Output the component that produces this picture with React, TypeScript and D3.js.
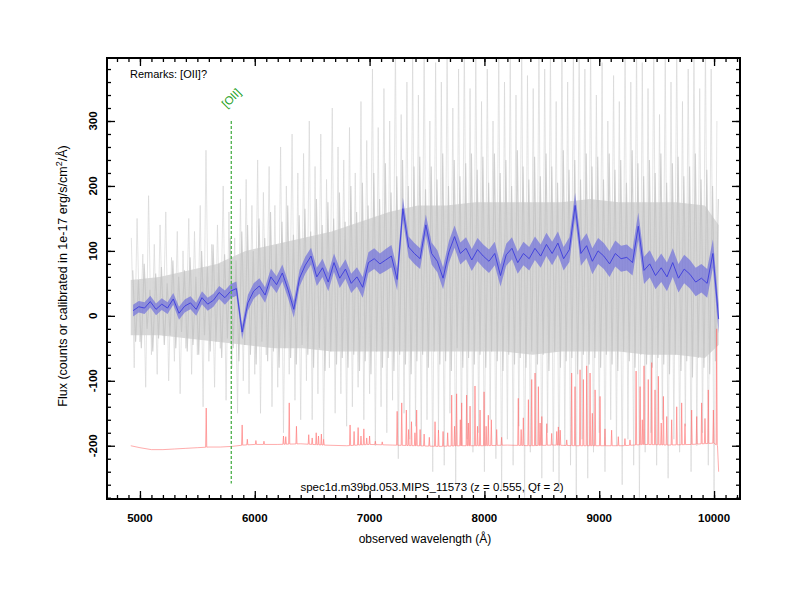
import React, { useEffect, useRef } from "react";
import { area, axisBottom, axisLeft, axisRight, axisTop, line, range, scaleLinear, select } from "d3";

// raw flux (grey), strong excursions, 25 Å grid starting at 4925
const rawStart = 4925;
const rawStep = 25;
const rawFlux = [
  120, -80, 150, -40, 95, -110, 185, -60, 110, -90, 140, -30, 160, -100, 90, -70, 130, -120, 100, -50,
  150, -90, 130, -60, 170, -140, 255, -70, 110, -110, 140, -50, 200, -130, 160, -80, 120, -150, 180, -100,
  210, -120, 170, -90, 240, -150, 190, -60, 230, -140, 170, -110, 260, -180, 200, -90, 280, -130, 220, -160,
  250, -100, 300, -160, 230, -120, 280, -190, 210, -80, 320, -150, 260, -120, 240, -170, 290, -140, 220, -110,
  330, -160, 270, -120, 380, -200, 290, -140, 350, -180, 300, -130, 420, -220, 310, -150, 360, -190, 400, -170,
  340, -200, 420, -160, 300, -240, 390, -180, 360, -230, 420, -150, 320, -260, 380, -200, 420, -190, 350, -210,
  410, -180, 330, -240, 380, -160, 300, -220, 420, -270, 360, -190, 400, -230, 340, -170, 420, -280, 370, -210,
  350, -200, 420, -250, 380, -180, 410, -240, 330, -270, 420, -200, 360, -230, 420, -280, 400, -190, 380, -250,
  420, -210, 340, -180, 390, -240, 300, -160, 370, -200, 330, -260, 420, -190, 360, -230, 420, -280, 390, -210,
  350, -180, 420, -230, 310, -160, 400, -250, 360, -190, 420, -210, 330, -170, 380, -240, 420, -200, 350, -180,
  420, -230, 380, -280, 300,
];

// raw flux (grey), typical pixels, 25 Å grid starting at 4937
const denseStart = 4937;
const denseStep = 25;
const denseFlux = [
  70, -40, 55, -50, 80, -20, 40, -55, 65, -35, 75, -45, 50, -30, 85, -50, 60, -25, 70, -55,
  90, -45, 60, -60, 100, -30, 75, -55, 110, -40, 80, -65, 95, -35, 120, -50, 85, -70, 130, -45,
  140, -60, 100, -75, 150, -40, 120, -70, 160, -55, 110, -80, 145, -50, 170, -65, 125, -75, 155, -45,
  165, -60, 130, -80, 180, -50, 140, -85, 175, -55, 150, -75, 190, -65, 145, -80, 200, -60, 160, -85,
  205, -70, 170, -90, 220, -55, 180, -80, 235, -65, 190, -85, 215, -60, 240, -75, 200, -90, 230, -70,
  245, -60, 195, -80, 230, -55, 210, -75, 250, -70, 200, -85, 240, -50, 215, -80, 235, -65, 250, -75,
  225, -60, 245, -80, 205, -55, 250, -70, 220, -85, 240, -60, 200, -75, 255, -65, 230, -80, 210, -55,
  245, -75, 215, -60, 250, -85, 230, -55, 205, -80, 255, -70, 225, -65, 240, -90, 210, -60, 250, -75,
  230, -65, 245, -80, 210, -60, 250, -75, 225, -85, 240, -55, 205, -70, 255, -80, 235, -60, 215, -75,
  240, -80, 220, -65, 250, -75, 205, -90, 235, -60, 245, -85, 215, -70, 230, -95, 250, -65, 210, -80,
  225, -90, 200, -70, 180,
];

// core of the raw spectrum, where most pixels overlap
const bandWave = [4920, 5170, 5420, 5670, 5920, 6170, 6420, 6670, 6920, 7170, 7420, 7670, 7920, 8170, 8420, 8670, 8920, 9170, 9420, 9670, 9920, 10040];
const coreHigh = [55, 60, 70, 80, 100, 110, 120, 130, 145, 160, 170, 170, 175, 175, 175, 175, 180, 175, 175, 175, 170, 140];
const coreLow = [-30, -30, -35, -40, -45, -50, -50, -55, -55, -55, -55, -55, -55, -55, -60, -55, -55, -55, -60, -60, -65, -45];

// smoothed flux (blue), 50 Å grid starting at 4940
const smoothStart = 4940;
const smoothStep = 50;
const smoothFlux = [
  8, 14, 12, 22, 10, 18, 12, 26, 4, 15, 20, 10, 28, 18, 24, 36, 28, 38, 42, -25,
  20, 38, 46, 32, 60, 48, 66, 40, 10, 58, 78, 92, 60, 74, 52, 82, 58, 72, 50, 60,
  44, 82, 88, 80, 86, 92, 56, 165, 106, 96, 88, 140, 96, 84, 58, 98, 122, 96, 104, 86,
  102, 92, 84, 96, 62, 94, 104, 82, 96, 88, 104, 92, 110, 96, 112, 88, 102, 170, 96, 108,
  84, 100, 92, 80, 96, 88, 90, 82, 138, 70, 80, 62, 74, 60, 82, 58, 72, 64, 52, 58,
  50, 96, -5,
];
// 1-sigma half width of the smoothed flux, per 200 Å
const smoothErrStep = 200;
const smoothErr = [9, 9, 10, 10, 11, 12, 13, 13, 14, 15, 16, 17, 16, 17, 17, 18, 17, 18, 18, 19, 20, 20, 21, 22, 22, 22];

// sky spectrum (red), offset
const skyBaseWave = [4920, 5000, 5100, 5200, 5300, 5400, 5500, 5600, 5700, 5800, 5900, 6000, 6200, 6400, 6600, 6800, 7000, 7200, 7400, 7600, 7800, 8000, 8200, 8400, 8600, 8800, 9000, 9200, 9400, 9600, 9800, 10000, 10030, 10040];
const skyBaseVal = [-200, -203, -206, -206, -205, -204, -203, -202, -202, -201, -199, -198, -198, -197, -199, -200, -198, -199, -200, -201, -200, -200, -199, -200, -199, -200, -200, -200, -198, -199, -198, -196, -200, -240];
const skyLineWave = [
  5577, 5890, 5935, 6010, 6080, 6250, 6270, 6300, 6363, 6470, 6500, 6535, 6555, 6580, 6600, 6830, 6865, 6900, 6925, 6950,
  6975, 7000, 7050, 7110, 7240, 7280, 7320, 7340, 7365, 7395, 7410, 7440, 7475, 7520, 7570, 7600, 7640, 7680, 7715, 7740,
  7758, 7790, 7802, 7845, 7860, 7875, 7918, 7940, 7962, 7997, 8015, 8034, 8060, 8107, 8150, 8295, 8320, 8339, 8383, 8412,
  8441, 8470, 8485, 8500, 8543, 8586, 8630, 8644, 8660, 8717, 8760, 8789, 8833, 8862, 8891, 8920, 8940, 8964, 9007, 9050,
  9108, 9166, 9224, 9268, 9321, 9356, 9375, 9390, 9427, 9457, 9486, 9515, 9540, 9559, 9588, 9631, 9675, 9718, 9747, 9805,
  9849, 9892, 9921, 9950, 9994, 10023,
];
const skyLinePeak = [
  -142, -168, -190, -192, -193, -185, -186, -134, -170, -183, -188, -180, -185, -182, -190, -168, -178, -172, -185, -174,
  -188, -185, -193, -194, -147, -134, -145, -175, -163, -180, -145, -175, -182, -187, -163, -176, -178, -180, -122, -170,
  -120, -160, -134, -122, -165, -139, -108, -170, -145, -117, -170, -153, -160, -175, -187, -127, -175, -157, -129, -98,
  -88, -109, -165, -155, -166, -181, -178, -171, -176, -191, -88, -109, -83, -98, -77, -88, -150, -114, -124, -174,
  -176, -186, -189, -191, -85, -109, -160, -77, -98, -72, -114, -93, -165, -124, -155, -160, -140, -134, -166, -145,
  -155, -134, -158, -114, -145, -20,
];

const xTicks = [5000, 6000, 7000, 8000, 9000, 10000];
const yTicks = [-200, -100, 0, 100, 200, 300];

const lineName = "[OII]";
const lineWave = 3727 * 1.555;
const lineRange = [300, -258];

const font = "'Liberation Sans', Arial, Helvetica, sans-serif";

export default function App() {
  const ref = useRef<SVGSVGElement>(null);

  useEffect(() => {
    const svg = select(ref.current);
    svg.selectAll("*").remove();

    const L = 107, R = 740, T = 58, B = 499;
    const x = scaleLinear().domain([4713, 10226]).range([L, R]);
    const y = scaleLinear().domain([-282, 397]).range([B, T]);

    svg.append("clipPath").attr("id", "plot").append("rect")
      .attr("x", L).attr("y", T).attr("width", R - L).attr("height", B - T);
    const g = svg.append("g").attr("clip-path", "url(#plot)");

    // grey raw spectrum
    g.append("path")
      .datum(bandWave.map((w, i) => ({ w, lo: coreLow[i], hi: coreHigh[i] })))
      .attr("fill", "#d9d9d9")
      .attr("d", area<any>().x((d) => x(d.w)).y0((d) => y(d.lo)).y1((d) => y(d.hi)));

    const rawLine = line<any>().x((d) => x(d[0])).y((d) => y(d[1]));
    g.append("path")
      .datum(rawFlux.map((v, i) => [rawStart + i * rawStep, v]))
      .attr("fill", "none")
      .attr("stroke", "#d4d4d4")
      .attr("stroke-opacity", 0.8)
      .attr("stroke-width", 0.8)
      .attr("d", rawLine);
    g.append("path")
      .datum(denseFlux.map((v, i) => [denseStart + i * denseStep, v]))
      .attr("fill", "none")
      .attr("stroke", "#c2c2c2")
      .attr("stroke-opacity", 0.75)
      .attr("stroke-width", 1.1)
      .attr("d", rawLine);

    // red sky spectrum
    const base = scaleLinear().domain(skyBaseWave).range(skyBaseVal);
    const skyPts: [number, number][] = [];
    skyBaseWave.forEach((w, i) => {
      if (skyLineWave.every((s) => Math.abs(s - w) > 6)) skyPts.push([w, skyBaseVal[i]]);
    });
    skyLineWave.forEach((w, i) => {
      skyPts.push([w - 5, base(w - 5)], [w, skyLinePeak[i]], [w + 5, base(w + 5)]);
    });
    skyPts.sort((a, b) => a[0] - b[0]);
    g.append("path")
      .datum(skyPts)
      .attr("fill", "#ff9a9a")
      .attr("fill-opacity", 0.3)
      .attr("d", area<[number, number]>().x((d) => x(d[0])).y0((d) => y(base(d[0]))).y1((d) => y(d[1])));
    g.append("path")
      .datum(skyPts)
      .attr("fill", "none")
      .attr("stroke", "#ff6a6a")
      .attr("stroke-opacity", 0.7)
      .attr("stroke-width", 0.8)
      .attr("d", line<[number, number]>().x((d) => x(d[0])).y((d) => y(d[1])));

    // blue smoothed spectrum with error band
    const smooth = smoothFlux.map((v, i) => {
      const w = smoothStart + i * smoothStep;
      const e = smoothErr[Math.min(smoothErr.length - 1, Math.floor((w - smoothStart) / smoothErrStep))];
      return { w, v, e };
    });
    g.append("path")
      .datum(smooth)
      .attr("fill", "#7070dc")
      .attr("fill-opacity", 0.7)
      .attr("d", area<any>().x((d) => x(d.w)).y0((d) => y(d.v - d.e)).y1((d) => y(d.v + d.e)));
    g.append("path")
      .datum(smooth)
      .attr("fill", "none")
      .attr("stroke", "#3c3cdc")
      .attr("stroke-width", 0.9)
      .attr("d", line<any>().x((d) => x(d.w)).y((d) => y(d.v)));

    // emission line marker
    svg.append("line")
      .attr("x1", x(lineWave)).attr("x2", x(lineWave))
      .attr("y1", y(lineRange[0])).attr("y2", y(lineRange[1]))
      .attr("stroke", "#55b455").attr("stroke-width", 1.4).attr("stroke-dasharray", "3,2");
    svg.append("text")
      .attr("transform", `translate(${x(lineWave)},${y(lineRange[0]) - 23}) rotate(-45)`)
      .attr("text-anchor", "middle").attr("dy", "0.35em")
      .attr("font-family", font).attr("font-size", 11.5).attr("fill", "#22a022")
      .text(lineName);

    // frame and ticks
    const xMinor = range(4800, 10201, 100);
    const yMinor = range(-280, 397, 20);
    const tickAxis = (gen: any, vals: number[], size: number, tr: string) => {
      const a = svg.append("g").attr("transform", tr)
        .call(gen.tickValues(vals).tickSize(-size).tickFormat(() => ""));
      a.select(".domain").remove();
      a.selectAll("line").attr("stroke", "#000").attr("stroke-width", 1.3);
    };
    tickAxis(axisBottom(x), xMinor, 4, `translate(0,${B})`);
    tickAxis(axisBottom(x), xTicks, 8, `translate(0,${B})`);
    tickAxis(axisTop(x), xMinor, 4, `translate(0,${T})`);
    tickAxis(axisTop(x), xTicks, 8, `translate(0,${T})`);
    tickAxis(axisLeft(y), yMinor, 4, `translate(${L},0)`);
    tickAxis(axisLeft(y), yTicks, 8, `translate(${L},0)`);
    tickAxis(axisRight(y), yMinor, 4, `translate(${R},0)`);
    tickAxis(axisRight(y), yTicks, 8, `translate(${R},0)`);

    svg.append("rect")
      .attr("x", L).attr("y", T).attr("width", R - L).attr("height", B - T)
      .attr("fill", "none").attr("stroke", "#000").attr("stroke-width", 2);

    svg.selectAll(".xl").data(xTicks).join("text")
      .attr("x", (d) => x(d)).attr("y", 522)
      .attr("text-anchor", "middle")
      .attr("font-family", font).attr("font-size", 11.5).attr("font-weight", "bold")
      .text((d) => d);
    svg.selectAll(".yl").data(yTicks).join("text")
      .attr("transform", (d) => `translate(97,${y(d)}) rotate(-90)`)
      .attr("text-anchor", "middle")
      .attr("font-family", font).attr("font-size", 11.5).attr("font-weight", "bold")
      .text((d) => d);

    // texts
    svg.append("text")
      .attr("x", 130).attr("y", 78)
      .attr("font-family", font).attr("font-size", 11)
      .text("Remarks: [OII]?");
    svg.append("text")
      .attr("x", 432).attr("y", 491).attr("text-anchor", "middle")
      .attr("font-family", font).attr("font-size", 11.5)
      .text("spec1d.m39bd.053.MIPS_11573 (z = 0.555, Qf = 2)");
    svg.append("text")
      .attr("x", 425).attr("y", 543).attr("text-anchor", "middle")
      .attr("font-family", font).attr("font-size", 12)
      .text("observed wavelength (Å)");
    const yl = svg.append("text")
      .attr("transform", "translate(67,276) rotate(-90)").attr("text-anchor", "middle")
      .attr("font-family", font).attr("font-size", 12.5);
    yl.append("tspan").text("Flux (counts or calibrated in 1e-17 erg/s/cm");
    yl.append("tspan").attr("dy", -5).attr("font-size", 9).text("2");
    yl.append("tspan").attr("dy", 5).text("/Å)");
  }, []);

  return (
    <div style={{ position: "absolute", left: 0, top: 0 }}>
      <svg ref={ref} width={800} height={600} style={{ display: "block", background: "#fff" }} />
    </div>
  );
}
